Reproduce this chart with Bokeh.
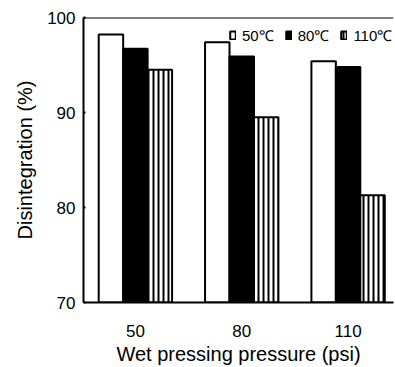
from bokeh.plotting import figure
from bokeh.models import ColumnDataSource, Legend, LegendItem, FixedTicker, Span, Range1d
from bokeh.transform import dodge
from bokeh.embed import file_html
from bokeh.resources import INLINE

# ---- data ----
pressures = ["50", "80", "110"]          # wet pressing pressure (psi)
temps = ["50℃", "80℃", "110℃"]          # series labels
dis_50C = [98.2, 97.4, 95.4]
dis_80C = [96.7, 95.9, 94.8]
dis_110C = [94.5, 89.5, 81.3]
y_ticks = [70, 80, 90, 100]

src = ColumnDataSource(dict(
    x=list(range(len(pressures))),
    s50=dis_50C, s80=dis_80C, s110=dis_110C,
))

FONT = "Liberation Sans"

p = figure(width=395, height=367, output_backend="svg", toolbar_location=None,
           x_range=Range1d(-0.488, 2.427), y_range=Range1d(70, 100),
           min_border_left=83, min_border_right=2, min_border_top=17,
           min_border_bottom=65)
p.background_fill_color = "white"
p.border_fill_color = "white"
p.outline_line_color = None
p.xgrid.visible = False
p.ygrid.visible = False

bw = 0.23
r1 = p.vbar(x=dodge("x", -bw, range=p.x_range), top="s50", bottom=70, width=bw,
            source=src, fill_color="white", line_color="black", line_width=2)
r2 = p.vbar(x=dodge("x", 0, range=p.x_range), top="s80", bottom=70, width=bw,
            source=src, fill_color="black", line_color="black", line_width=2)
r3 = p.vbar(x=dodge("x", bw, range=p.x_range), top="s110", bottom=70, width=bw,
            source=src, fill_color="white", line_color="black", line_width=2,
            hatch_pattern="vertical_line", hatch_color="black",
            hatch_scale=5, hatch_weight=2)

p.add_layout(Span(location=100, dimension="width", line_color="black", line_width=2))

# axes
p.xaxis.ticker = FixedTicker(ticks=list(range(len(pressures))))
p.xaxis.major_label_overrides = {i: lab for i, lab in enumerate(pressures)}
p.xaxis.minor_tick_line_color = None
p.xaxis.major_label_standoff = 16
p.xaxis.axis_label = "Wet pressing pressure (psi)"

p.yaxis.ticker = FixedTicker(ticks=y_ticks)
p.yaxis.major_tick_in = 2
p.yaxis.major_tick_out = 0
p.yaxis.minor_tick_line_color = None
p.yaxis.major_label_standoff = 8
p.yaxis.axis_label = "Disintegration (%)"

for ax in (p.xaxis[0], p.yaxis[0]):
    ax.axis_line_width = 2
    ax.axis_line_color = "black"
    ax.major_tick_line_color = "black" if ax is p.yaxis[0] else None
    ax.major_tick_line_width = 2
    ax.major_label_text_font = FONT
    ax.major_label_text_font_size = "17px"
    ax.major_label_text_color = "black"
    ax.axis_label_text_font = FONT
    ax.axis_label_text_font_size = "20px"
    ax.axis_label_text_font_style = "normal"
    ax.axis_label_text_color = "black"

p.xaxis.axis_label_standoff = 3
p.yaxis.axis_label_standoff = 8

legend = Legend(items=[LegendItem(label=temps[0], renderers=[r1]),
                       LegendItem(label=temps[1], renderers=[r2]),
                       LegendItem(label=temps[2], renderers=[r3])],
                orientation="horizontal", location=(146, 257),
                padding=0, margin=0, spacing=11, label_standoff=6,
                glyph_width=7, glyph_height=10, label_height=15,
                border_line_color=None, background_fill_alpha=0,
                label_text_font=FONT, label_text_font_size="15px",
                label_text_color="black")
p.add_layout(legend)

open("out.html", "w").write(file_html(p, INLINE))
